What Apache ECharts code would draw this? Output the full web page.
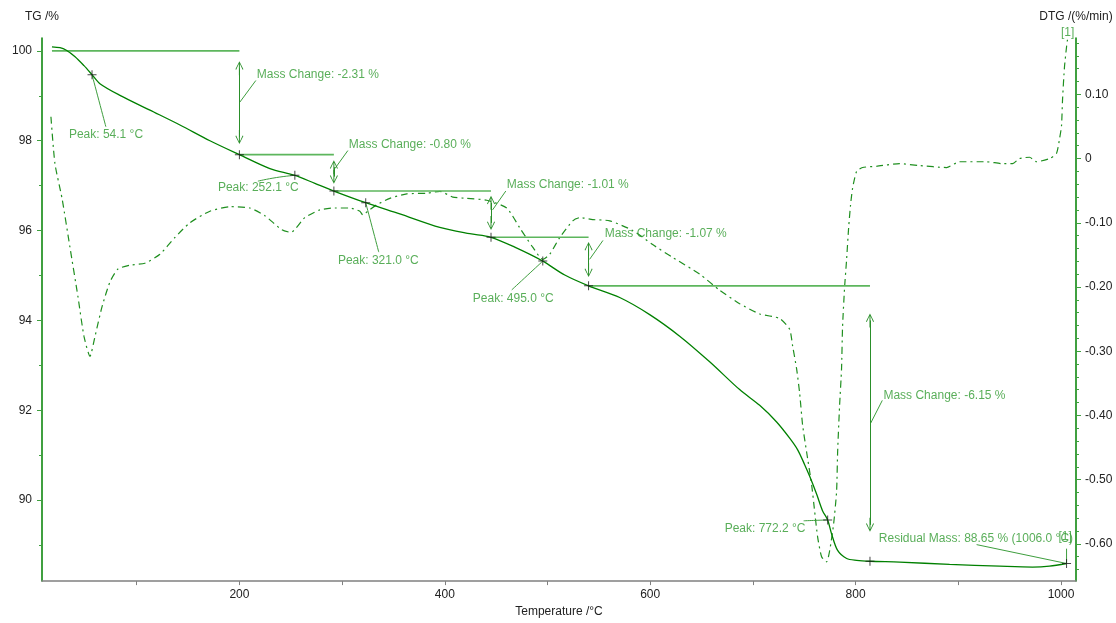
<!DOCTYPE html>
<html>
<head>
<meta charset="utf-8">
<title>TG / DTG</title>
<script src="https://cdn.jsdelivr.net/npm/echarts@6/dist/echarts.min.js"></script>
<style>
  html, body { margin: 0; padding: 0; background: #fff; }
  #chart { width: 1116px; height: 623px; }
</style>
</head>
<body>
<div id="chart"></div>
<script>
// TG curve: temperature (°C) and mass (%)
const tgTemp = [17.5, 25.3, 31.1, 40.0, 48.7, 56.5, 64.2, 83.7, 112.9, 142.1, 171.3, 200, 229.7, 254, 273.5,
  292, 323, 356.2, 395.1, 424.3, 445, 468.1, 495.4, 516.8, 540, 570.3, 599.5, 628.7, 657.9, 687.1,
  706.6, 723.1, 735.8, 743.6, 750.4, 755.3, 762.1, 767.9, 772.8, 776.6, 782.5, 791.3, 801, 814,
  842.9, 891.5, 940.2, 972.3, 988.8, 1005.4];
const tgMass = [100.09, 100.07, 100.02, 99.87, 99.67, 99.47, 99.27, 99.01, 98.68, 98.35, 98.00, 97.69, 97.38, 97.23, 97.05,
  96.88, 96.62, 96.37, 96.07, 95.93, 95.85, 95.63, 95.32, 95.01, 94.77, 94.51, 94.13, 93.65, 93.08, 92.46,
  92.11, 91.74, 91.38, 91.12, 90.79, 90.53, 90.13, 89.76, 89.56, 89.25, 88.88, 88.70, 88.66, 88.64,
  88.62, 88.57, 88.53, 88.51, 88.53, 88.59];

// DTG curve: temperature (°C) and rate (%/min)
const dtgTemp = [16.5, 20.4, 27.3, 35.0, 42.8, 48.7, 54.5, 59.4, 66.2, 74.0, 81.8, 93.6, 108.0, 122.6, 137.2,
  151.8, 171.3, 190.8, 210.2, 224.8, 241.4, 250.1, 263.7, 278.3, 292.9, 307.5, 317.3, 320.2, 325.1, 333.8,
  346.5, 363.0, 382.5, 395.1, 407.8, 421.4, 440.9, 460.3, 473.0, 485.6, 495.4, 502.2, 511.9, 524.6, 531.4,
  544.0, 560.6, 583.0, 602.4, 621.9, 648.2, 667.6, 687.1, 706.6, 726.0, 735.8, 738.7, 742.6, 745.5, 748.4,
  752.3, 757.2, 760.1, 763.0, 766.9, 771.8, 774.7, 778.6, 781.5, 782.5, 784.4, 786.3, 787.3, 789.3, 791.2,
  793.2, 795.1, 797.1, 801.0, 806.8, 820.4, 842.8, 862.3, 888.6, 901.2, 927.5, 943.1, 952.8, 959.6, 969.4,
  976.2, 988.8, 995.6, 998.6, 1000.5, 1001.5, 1003.4, 1005.4, 1006.3];
const dtgRate = [0.065, -0.008, -0.062, -0.138, -0.215, -0.277, -0.308, -0.277, -0.231, -0.192, -0.172, -0.166, -0.163, -0.149, -0.123,
  -0.100, -0.082, -0.075, -0.077, -0.089, -0.111, -0.115, -0.092, -0.080, -0.077, -0.077, -0.082, -0.088, -0.082, -0.072,
  -0.062, -0.055, -0.054, -0.051, -0.060, -0.062, -0.065, -0.077, -0.108, -0.138, -0.157, -0.149, -0.123, -0.097, -0.092,
  -0.095, -0.097, -0.112, -0.134, -0.154, -0.180, -0.205, -0.226, -0.242, -0.249, -0.266, -0.292, -0.328, -0.365, -0.415,
  -0.457, -0.508, -0.549, -0.589, -0.620, -0.628, -0.611, -0.569, -0.518, -0.457, -0.385, -0.328, -0.262, -0.200, -0.158,
  -0.108, -0.072, -0.046, -0.020, -0.014, -0.012, -0.008, -0.011, -0.014, -0.005, -0.005, -0.008, -0.008, 0.000, 0.002,
  -0.005, 0.000, 0.008, 0.031, 0.051, 0.092, 0.143, 0.174, 0.185];

// mass change steps
const stepTemps = [17.5, 200, 292, 445, 540, 814];
const stepLevels = [100, 97.69, 96.88, 95.85, 94.77, 88.64];
const arrowTop = [99.61, 97.41, 96.62, 95.59, 94.00];
const arrowBottom = [98.08, 97.20, 96.17, 95.12, 89.45];
const stepLabels = ['Mass Change: -2.31 %', 'Mass Change: -0.80 %', 'Mass Change: -1.01 %',
  'Mass Change: -1.07 %', 'Mass Change: -6.15 %'];
const stepLabelAt = [[217, 99.47], [306.6, 97.91], [460.3, 97.01], [555.7, 95.93], [827.1, 92.33]];
const stepLeaders = [[[200.5, 98.86], [216, 99.34]], [[293, 97.38], [305.6, 97.78]], [[446.5, 96.46], [459.4, 96.88]],
  [[541, 95.36], [554, 95.78]], [[814.6, 91.71], [826, 92.22]]];

// peaks and residual mass
const peakPoints = [[56.5, 99.47], [254, 97.23], [323, 96.62], [495.4, 95.32], [772.8, 89.56]];
const peakLabels = ['Peak: 54.1 °C', 'Peak: 252.1 °C', 'Peak: 321.0 °C', 'Peak: 495.0 °C', 'Peak: 772.2 °C'];
const peakLabelAt = [[34, 98.13], [179.1, 96.95], [295.9, 95.32], [427.3, 94.48], [672.5, 89.36]];
const peakLeaders = [[[56.5, 99.47], [70, 98.31]], [[254, 97.23], [236, 97.18], [218, 97.10]], [[323, 96.62], [335.7, 95.52]],
  [[495.4, 95.32], [465.2, 94.68]], [[772.8, 89.56], [749.4, 89.54]]];
const residualPoint = [1005.4, 88.59];
const residualLabel = 'Residual Mass: 88.65 % (1006.0 °C)';
const residualLabelAt = [822.6, 89.14];
const residualLeader = [[1005.4, 88.59], [917.8, 89.01]];

// axis ticks
const xTicks = [100, 200, 300, 400, 500, 600, 700, 800, 900, 1000];
const xLabels = [200, 400, 600, 800, 1000];
const tgTicks = [90, 92, 94, 96, 98, 100];
const tgMinor = [89, 91, 93, 95, 97, 99];
const dtgTicks = [-0.6, -0.5, -0.4, -0.3, -0.2, -0.1, 0, 0.1];
const dtgMinor = [];
for (let k = -32; k <= 9; k++) { if (k % 5 !== 0) dtgMinor.push(k / 50); }

const GREEN = '#008000';
const TEXT_GREEN = '#2f9a2f';
const NOTE_GREEN = '#5db65d';
const FONT = 'Liberation Sans, Arial, sans-serif';

// open arrow head with a short stem, tip at the top
const chevron = 'path://M0,0 L4,8 L3.2,8.5 L0.5,2.5 L0.5,14 L-0.5,14 L-0.5,2.5 L-3.2,8.5 L-4,8 Z';
const plus = 'path://M4,0 L5,0 L5,4 L9,4 L9,5 L5,5 L5,9 L4,9 L4,5 L0,5 L0,4 L4,4 Z';

function segment(points, color, width, smooth) {
  return {
    type: 'line', xAxisIndex: 0, yAxisIndex: 0, data: points, showSymbol: false, symbol: 'none',
    smooth: smooth || false, silent: true, lineStyle: { color: color, width: width }, z: 3
  };
}

function textSeries(items, yIndex, position) {
  return {
    type: 'scatter', xAxisIndex: 0, yAxisIndex: yIndex, symbolSize: 0, clip: false, silent: true,
    data: items.map(it => ({ value: it[0], name: it[1] })),
    label: {
      show: true, position: position, distance: 0, formatter: '{b}',
      color: TEXT_GREEN, fontSize: 12, fontFamily: FONT
    }, z: 5
  };
}

const series = [];

series.push({
  type: 'line', name: 'DTG', xAxisIndex: 0, yAxisIndex: 1,
  data: dtgTemp.map((t, i) => [t, dtgRate[i]]),
  showSymbol: false, symbol: 'none', smooth: 0.2, silent: true,
  lineStyle: { color: '#1f8f1f', width: 1.2, type: [7, 4, 2, 4] }, z: 2
});

series.push({
  type: 'line', name: 'TG', xAxisIndex: 0, yAxisIndex: 0,
  data: tgTemp.map((t, i) => [t, tgMass[i]]),
  showSymbol: false, symbol: 'none', smooth: 0.3, silent: true,
  lineStyle: { color: GREEN, width: 1.3 }, z: 4
});

// horizontal step levels
for (let i = 0; i < stepLabels.length; i++) {
  series.push(segment([[stepTemps[i], stepLevels[i]], [stepTemps[i + 1], stepLevels[i]]], NOTE_GREEN, 1.6));
}

// double arrows
series.push({
  type: 'line', xAxisIndex: 0, yAxisIndex: 0, data: [], silent: true,
  markLine: {
    silent: true, animation: false,
    symbol: [chevron, chevron], symbolSize: [8, 14],
    lineStyle: { color: '#2a8f2a', width: 1, type: 'solid' },
    label: { show: false },
    data: arrowTop.map((top, i) => [
      { coord: [stepTemps[i + 1], top] },
      { coord: [stepTemps[i + 1], arrowBottom[i]] }
    ])
  }
});

// leader lines
stepLeaders.forEach(l => series.push(segment(l, '#3e9e3e', 1)));
peakLeaders.forEach(l => series.push(segment(l, '#3e9e3e', 1, 0.5)));
series.push(segment(residualLeader, '#3e9e3e', 1));
series.push(segment([residualPoint, [residualPoint[0], 88.92]], '#3e9e3e', 1));

// texts
series.push(textSeries(stepLabels.map((s, i) => [stepLabelAt[i], s]), 0, 'right'));
series.push(textSeries(peakLabels.map((s, i) => [peakLabelAt[i], s]), 0, 'right'));
series.push(textSeries([[residualLabelAt, residualLabel]], 0, 'right'));
series.push(textSeries([[[1004, 89.19], '[1]']], 0, 'inside'));
series.push(textSeries([[[1006.5, 0.196], '[1]']], 1, 'inside'));

// cross markers
series.push({
  type: 'scatter', xAxisIndex: 0, yAxisIndex: 0, symbol: plus, symbolSize: 9, silent: true,
  itemStyle: { color: '#1a1a1a' },
  data: peakPoints.concat(stepTemps.slice(1).map((t, i) => [t, stepLevels[i + 1]])).concat([residualPoint]),
  z: 6
});

const axisText = { color: '#222', fontSize: 12, fontFamily: FONT };

const option = {
  animation: false,
  backgroundColor: '#fff',
  grid: { left: 42, right: 40, top: 38, bottom: 35 },
  xAxis: {
    type: 'value', min: 7.8, max: 1014.6,
    name: 'Temperature /°C', nameLocation: 'middle', nameGap: 21,
    nameTextStyle: axisText,
    axisLine: { show: true, onZero: false, lineStyle: { color: '#808080', width: 1.5 } },
    axisTick: { show: true, customValues: xTicks, length: 4, lineStyle: { color: '#808080' } },
    axisLabel: { customValues: xLabels, margin: 8, ...axisText, formatter: v => String(v) },
    splitLine: { show: false }
  },
  yAxis: [
    {
      type: 'value', position: 'left', min: 88.198, max: 100.286,
      name: 'TG /%', nameLocation: 'end', nameGap: 15, nameTextStyle: axisText,
      axisLine: { show: true, onZero: false, lineStyle: { color: GREEN, width: 1.5 } },
      axisTick: { show: true, customValues: tgTicks, length: 5, lineStyle: { color: '#3fa03f' } },
      axisLabel: { customValues: tgTicks, margin: 10, ...axisText, formatter: v => String(v) },
      splitLine: { show: false }
    },
    {
      type: 'value', position: 'right', min: -0.658, max: 0.1877,
      name: 'DTG /(%/min)', nameLocation: 'end', nameGap: 15, nameTextStyle: axisText,
      axisLine: { show: true, onZero: false, lineStyle: { color: GREEN, width: 1.5 } },
      axisTick: { show: true, customValues: dtgTicks, length: 5, lineStyle: { color: '#3fa03f' } },
      axisLabel: {
        customValues: dtgTicks, margin: 9, ...axisText,
        formatter: v => (Math.abs(v) < 1e-9 ? '0' : v.toFixed(2))
      },
      splitLine: { show: false }
    },
    {
      type: 'value', position: 'left', min: 88.198, max: 100.286,
      axisLine: { show: false, onZero: false },
      axisTick: { show: true, customValues: tgMinor, length: 3, lineStyle: { color: '#3fa03f' } },
      axisLabel: { show: false }, splitLine: { show: false }
    },
    {
      type: 'value', position: 'right', min: -0.658, max: 0.1877,
      axisLine: { show: false, onZero: false },
      axisTick: { show: true, customValues: dtgMinor, length: 3, lineStyle: { color: '#3fa03f' } },
      axisLabel: { show: false }, splitLine: { show: false }
    }
  ],
  series: series
};

const chart = echarts.init(document.getElementById('chart'));
chart.setOption(option);
</script>
</body>
</html>
